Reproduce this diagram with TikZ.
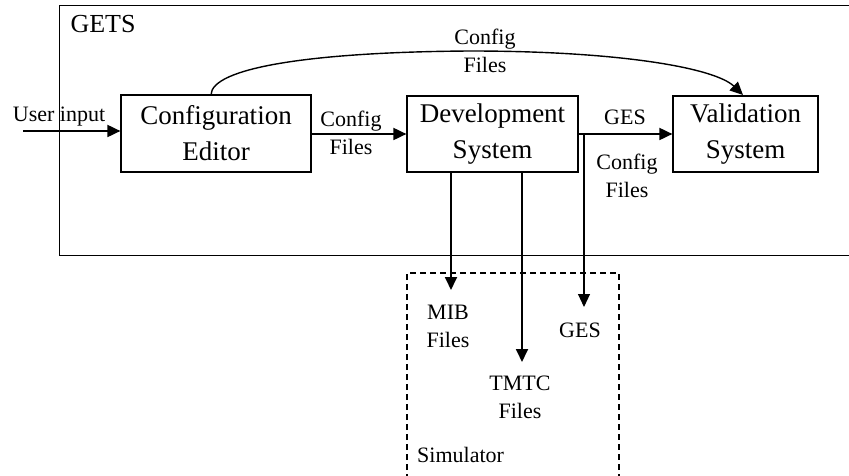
\documentclass[tikz,border=0pt]{standalone}
\usepackage{fontspec}
\setmainfont{Liberation Serif}
\usetikzlibrary{arrows.meta}
\begin{document}
\begin{tikzpicture}[x=1pt,y=-1pt,
  box/.style={draw,line width=1.2pt,inner sep=0pt,align=center,font=\fontsize{27}{36}\selectfont},
  lbl/.style={inner sep=0pt,align=center,font=\fontsize{22}{28}\selectfont},
  arr/.style={line width=1.8pt,-{Triangle[length=13pt,width=12pt]}},
  thinarr/.style={line width=1.1pt,-{Triangle[length=13pt,width=12pt]}}]
\useasboundingbox (0,0) rectangle (849,476);
\clip (0,0) rectangle (849,476);
% GETS frame
\draw[line width=1pt] (59,6) rectangle (870,255);
\node[inner sep=0pt,font=\fontsize{26}{30}\selectfont] (gets) at (103,24) {GETS};
% Simulator frame
\draw[line width=1.4pt,dash pattern=on 6pt off 4pt] (407,490) -- (407,273) -- (619,273) -- (619,490);
\node[lbl,anchor=west] (sim) at (417,455) {Simulator};
% boxes
\node[box,minimum width=190pt,minimum height=77pt] (ce) at (216,133.5) {Configuration\\Editor};
\node[box,minimum width=171pt,minimum height=76pt] (ds) at (492.5,134) {Development\\System};
\node[box,minimum width=145pt,minimum height=76pt] (vs) at (745.5,134) {Validation\\System};
% user input
\coordinate (ui) at (23,131);
\draw[arr] (ui) -- (ui -| ce.west);
\node[lbl] (uil) at (59,117) {User input};
% CE -> DS
\draw[arr] (ce.east |- 0,134) -- (ds.west |- 0,134);
\node[lbl] (cf1) at (351,133) {Config\\Files};
% curve CE -> VS
\coordinate (c0) at (211,95);
\coordinate (c1) at (743,95);
\draw[line width=1.4pt,-{Triangle[length=13pt,width=12pt]}] (c0) .. controls (211,68) and (310,52) .. (470,51) .. controls (620,51) and (715,68) .. (c1);
\node[lbl] (cf2) at (485,51) {Config\\Files};
% DS -> VS
\draw[arr] (ds.east |- 0,134) -- (vs.west |- 0,134);
\node[lbl] (gesl) at (625,117) {GES};
\node[lbl] (cf3) at (627,176) {Config\\Files};
% branch GES down
\coordinate (gb) at (584,134);
\coordinate (ge) at (584,307);
\draw[thinarr] (gb) -- (ge);
\node[lbl] (ges2) at (580,330) {GES};
% MIB, TMTC
\coordinate (me) at (451,290);
\coordinate (te) at (522,362);
\draw[arr] (ds.south -| me) -- (me);
\draw[arr] (ds.south -| te) -- (te);
\node[lbl] (mib) at (448,326) {MIB\\Files};
\node[lbl] (tmtc) at (520,397) {TMTC\\Files};
\end{tikzpicture}
\end{document}
